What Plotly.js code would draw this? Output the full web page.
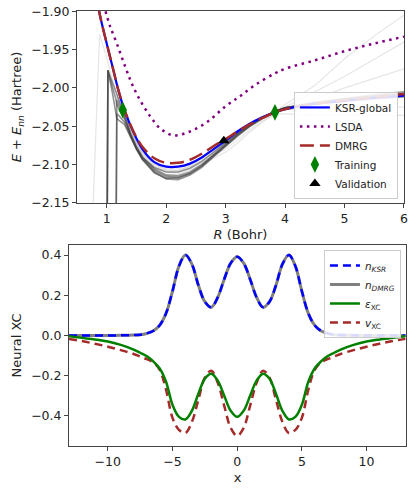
<!DOCTYPE html>
<html>
<head>
<meta charset="utf-8">
<script src="https://cdn.plot.ly/plotly-3.0.1.min.js"></script>
<style>
  body { margin: 0; background: #fff; }
  #plot { width: 415px; height: 488px; }
</style>
</head>
<body>
<div id="plot"></div>
<script>
// top panel: binding curve, R in Bohr, E in Hartree
let curveR = [0.86, 0.9, 1.0, 1.1, 1.2, 1.3, 1.45, 1.6, 1.8, 2.0, 2.2, 2.4, 2.6, 2.8, 3.0, 3.2, 3.4, 3.6, 3.83, 4.0, 4.5, 5.0, 5.5, 6.0];
let ksrE  = [-1.895, -1.91, -1.942, -1.973, -2.004, -2.029, -2.058, -2.08, -2.097, -2.103, -2.103, -2.099, -2.091, -2.08, -2.069, -2.057, -2.047, -2.039, -2.032, -2.028, -2.021, -2.017, -2.013, -2.010];
let dmrgE = [-1.895, -1.91, -1.942, -1.973, -2.004, -2.029, -2.057, -2.077, -2.092, -2.098, -2.098, -2.094, -2.086, -2.076, -2.067, -2.057, -2.048, -2.04, -2.032, -2.028, -2.021, -2.016, -2.012, -2.008];

let lsdaR = [0.98, 1.05, 1.17, 1.31, 1.42, 1.56, 1.73, 1.9, 2.12, 2.4, 2.7, 3.0, 3.24, 3.5, 3.83, 4.0, 4.5, 5.0, 5.5, 6.0];
let lsdaE = [-1.90, -1.918, -1.942, -1.972, -1.994, -2.016, -2.037, -2.053, -2.062, -2.057, -2.044, -2.024, -2.011, -1.996, -1.981, -1.975, -1.964, -1.952, -1.942, -1.933];

let trainR = [1.27, 3.83];
let trainE = [-2.029, -2.032];
let validR = [2.97];
let validE = [-2.069];

// training trajectory curves (grey), null = not drawn at that R
let gridR = [0.7, 0.88, 1.0, 1.02, 1.1, 1.15, 1.17, 1.2, 1.3, 1.4, 1.5, 1.6, 1.8, 2.0, 2.2, 2.4, 2.6, 2.8, 3.0, 3.2, 3.4, 3.6, 3.83, 4.0, 4.5, 5.0, 5.5, 6.0];
let dark1 = [null, null, -2.3, -1.977, -1.994, -2.003, -2.008, -2.016, -2.036, -2.06, -2.078, -2.092, -2.11, -2.119, -2.12, -2.114, -2.104, -2.09, -2.076, -2.063, -2.051, -2.041, -2.031, -2.026, -2.019, -2.014, -2.009, -2.005];
let dark2 = [null, null, -2.3, -1.977, -2.0, -2.013, -2.022, -2.026, -2.041, -2.062, -2.08, -2.094, -2.111, -2.118, -2.118, -2.112, -2.102, -2.088, -2.074, -2.061, -2.05, -2.04, -2.031, -2.026, -2.02, -2.015, -2.011, -2.007];
let dark3 = [null, null, null, null, null, -2.3, -2.016, -2.022, -2.038, -2.06, -2.077, -2.09, -2.106, -2.114, -2.115, -2.11, -2.1, -2.087, -2.073, -2.06, -2.049, -2.04, -2.031, -2.026, -2.02, -2.016, -2.012, -2.009];
let dark4 = [null, null, null, null, null, -2.3, -2.034, -2.036, -2.045, -2.063, -2.079, -2.091, -2.104, -2.11, -2.11, -2.105, -2.096, -2.084, -2.071, -2.059, -2.048, -2.039, -2.031, -2.026, -2.021, -2.017, -2.014, -2.012];
let dark5 = [null, null, -2.3, -1.977, -2.008, -2.028, -2.04, -2.042, -2.048, -2.064, -2.08, -2.093, -2.108, -2.116, -2.117, -2.112, -2.102, -2.089, -2.075, -2.062, -2.05, -2.04, -2.031, -2.026, -2.02, -2.015, -2.011, -2.008];
let light1 = [-2.3, -1.93, -1.96, -1.968, -1.99, -2.003, -2.01, -2.016, -2.033, -2.055, -2.072, -2.085, -2.1, -2.107, -2.108, -2.103, -2.095, -2.084, -2.071, -2.059, -2.048, -2.039, -2.031, -2.022, -1.997, -1.962, -1.932, -1.905];
let light2 = [null, null, null, null, null, null, null, -2.012, -2.03, -2.054, -2.072, -2.086, -2.102, -2.108, -2.108, -2.102, -2.092, -2.08, -2.068, -2.057, -2.047, -2.039, -2.032, -2.025, -2.005, -1.985, -1.962, -1.94];
let light3 = [null, null, null, null, null, null, null, -2.014, -2.032, -2.056, -2.074, -2.088, -2.104, -2.11, -2.111, -2.106, -2.098, -2.088, -2.08, -2.068, -2.055, -2.044, -2.033, -2.027, -2.015, -2.0, -1.988, -1.975];
let light4 = [null, null, null, null, null, null, null, -2.01, -2.03, -2.053, -2.071, -2.084, -2.099, -2.106, -2.106, -2.1, -2.09, -2.078, -2.066, -2.055, -2.046, -2.038, -2.031, -2.028, -2.027, -2.026, -2.025, -2.025];
let light5 = [null, null, null, null, null, null, null, -2.018, -2.035, -2.058, -2.076, -2.09, -2.106, -2.113, -2.113, -2.108, -2.1, -2.092, -2.084, -2.072, -2.058, -2.046, -2.034, -2.034, -2.036, -2.036, -2.036, -2.036];

// bottom panel: densities and xc energy/potential on the grid
let xs = [-13, -12, -11, -10, -9, -8, -7.5, -7, -6.5, -6, -5.5, -5, -4.5, -4, -3.5, -3, -2.5, -2, -1.5, -1, -0.5, 0,
          0.5, 1, 1.5, 2, 2.5, 3, 3.5, 4, 4.5, 5, 5.5, 6, 6.5, 7, 7.5, 8, 9, 10, 11, 12, 13];
let nKSR = [0, 0, 0, 0, 0.0005, 0.002, 0.004, 0.01, 0.022, 0.05, 0.11, 0.22, 0.345, 0.40, 0.355, 0.25, 0.168, 0.14, 0.19, 0.28, 0.36, 0.392,
            0.36, 0.28, 0.19, 0.14, 0.168, 0.25, 0.355, 0.40, 0.345, 0.22, 0.11, 0.05, 0.022, 0.01, 0.004, 0.002, 0.0005, 0, 0, 0, 0];
let nDMRG = [0, 0, 0, 0, 0.0005, 0.002, 0.004, 0.01, 0.022, 0.05, 0.11, 0.22, 0.345, 0.40, 0.355, 0.25, 0.168, 0.14, 0.19, 0.28, 0.36, 0.392,
             0.36, 0.28, 0.19, 0.14, 0.168, 0.25, 0.355, 0.40, 0.345, 0.22, 0.11, 0.05, 0.022, 0.01, 0.004, 0.002, 0.0005, 0, 0, 0, 0];
let epsXC = [-0.004, -0.012, -0.02, -0.03, -0.047, -0.07, -0.086, -0.103, -0.128, -0.163, -0.23, -0.345, -0.405, -0.418, -0.375, -0.29, -0.215, -0.19, -0.225, -0.30, -0.375, -0.405,
             -0.375, -0.30, -0.225, -0.19, -0.215, -0.29, -0.375, -0.418, -0.405, -0.345, -0.23, -0.163, -0.128, -0.103, -0.086, -0.07, -0.047, -0.03, -0.02, -0.012, -0.004];
let vXC = [-0.017, -0.028, -0.041, -0.056, -0.073, -0.092, -0.105, -0.118, -0.133, -0.17, -0.27, -0.41, -0.47, -0.485, -0.43, -0.32, -0.21, -0.175, -0.235, -0.35, -0.46, -0.50,
           -0.46, -0.35, -0.235, -0.175, -0.21, -0.32, -0.43, -0.485, -0.47, -0.41, -0.27, -0.17, -0.133, -0.118, -0.105, -0.092, -0.073, -0.056, -0.041, -0.028, -0.017];

let darkSet = [dark1, dark2, dark3, dark4, dark5];
let lightSet = [light1, light2, light3, light4, light5];

let data = [];
lightSet.forEach(function (e) {
  data.push({x: gridR, y: e, mode: 'lines', line: {color: 'rgba(140,140,140,0.22)', width: 1.2},
             showlegend: false, hoverinfo: 'skip', xaxis: 'x', yaxis: 'y'});
});
darkSet.forEach(function (e) {
  data.push({x: gridR, y: e, mode: 'lines', line: {color: 'rgba(60,60,60,0.55)', width: 1.6},
             showlegend: false, hoverinfo: 'skip', xaxis: 'x', yaxis: 'y'});
});
data.push(
  {x: curveR, y: ksrE, mode: 'lines', name: 'KSR-global', line: {color: '#0000ff', width: 2.2, shape: 'spline'}, xaxis: 'x', yaxis: 'y'},
  {x: lsdaR, y: lsdaE, mode: 'lines', name: 'LSDA', line: {color: '#800080', width: 2.5, dash: '2.5px,4.5px', shape: 'spline'}, xaxis: 'x', yaxis: 'y'},
  {x: curveR, y: dmrgE, mode: 'lines', name: 'DMRG', line: {color: '#a52a2a', width: 2.5, dash: '14px,6px', shape: 'spline'}, xaxis: 'x', yaxis: 'y'},
  {x: trainR, y: trainE, mode: 'markers', name: 'Training', marker: {symbol: 'diamond-tall', color: '#008000', size: 12}, xaxis: 'x', yaxis: 'y'},
  {x: validR, y: validE, mode: 'markers', name: 'Validation', marker: {symbol: 'triangle-up', color: '#000', size: 10}, xaxis: 'x', yaxis: 'y'}
);
data.push(
  {x: xs, y: nDMRG, mode: 'lines', name: '<i>n</i><sub><i>DMRG</i></sub>', legend: 'legend2', legendrank: 2,
   line: {color: '#808080', width: 3, shape: 'spline'}, xaxis: 'x2', yaxis: 'y2'},
  {x: xs, y: nKSR, mode: 'lines', name: '<i>n</i><sub><i>KSR</i></sub>', legend: 'legend2', legendrank: 1,
   line: {color: '#0000ff', width: 2.5, dash: '8px,5px', shape: 'spline'}, xaxis: 'x2', yaxis: 'y2'},
  {x: xs, y: vXC, mode: 'lines', name: '<i>v</i><sub>XC</sub>', legend: 'legend2', legendrank: 4,
   line: {color: '#a52a2a', width: 2.5, dash: '8px,5px', shape: 'spline'}, xaxis: 'x2', yaxis: 'y2'},
  {x: xs, y: epsXC, mode: 'lines', name: '<i>ε</i><sub>XC</sub>', legend: 'legend2', legendrank: 3,
   line: {color: '#008000', width: 2.5, shape: 'spline'}, xaxis: 'x2', yaxis: 'y2'}
);

let axisStyle = {
  showline: true, mirror: true, linecolor: '#444', linewidth: 1,
  ticks: 'outside', ticklen: 4, tickcolor: '#444',
  showgrid: false, zeroline: false,
  tickfont: {size: 12.5, color: '#222'}
};

let legendStyle = {
  bgcolor: 'rgba(255,255,255,0.85)', bordercolor: '#ccc', borderwidth: 1,
  font: {size: 10.5, color: '#222'}, tracegroupgap: 0
};

let layout = {
  width: 415, height: 488,
  margin: {l: 69, r: 9, t: 11, b: 42},
  paper_bgcolor: '#fff', plot_bgcolor: '#fff',
  font: {family: 'DejaVu Sans, sans-serif', color: '#222'},
  xaxis: Object.assign({}, axisStyle, {domain: [0.0237, 0.994], range: [0.5, 6], tickvals: [1, 2, 3, 4, 5, 6],
    anchor: 'y', title: {text: '<i>R</i> (Bohr)', font: {size: 13}, standoff: 4}}),
  yaxis: Object.assign({}, axisStyle, {domain: [0.5586, 1], range: [-2.1505, -1.8995],
    tickvals: [-2.15, -2.10, -2.05, -2.00, -1.95, -1.90], tickformat: '.2f', anchor: 'x',
    title: {text: '<i>E</i> + <i>E</i><sub><i>nn</i></sub> (Hartree)', font: {size: 13}, standoff: 6}}),
  xaxis2: Object.assign({}, axisStyle, {domain: [0, 1], range: [-13, 13.05], tickvals: [-10, -5, 0, 5, 10],
    anchor: 'y2', title: {text: 'x', font: {size: 13}, standoff: 4}}),
  yaxis2: Object.assign({}, axisStyle, {domain: [0, 0.462], range: [-0.55, 0.45],
    tickvals: [-0.4, -0.2, 0, 0.2, 0.4], tickformat: '.1f', anchor: 'x2',
    title: {text: 'Neural XC', font: {size: 13}, standoff: 6}}),
  legend: Object.assign({}, legendStyle, {x: 0.976, xanchor: 'right', y: 0.568, yanchor: 'bottom'}),
  legend2: Object.assign({}, legendStyle, {x: 0.985, xanchor: 'right', y: 0.4506, yanchor: 'top'})
};

Plotly.newPlot('plot', data, layout, {displayModeBar: false, responsive: false});
</script>
</body>
</html>
